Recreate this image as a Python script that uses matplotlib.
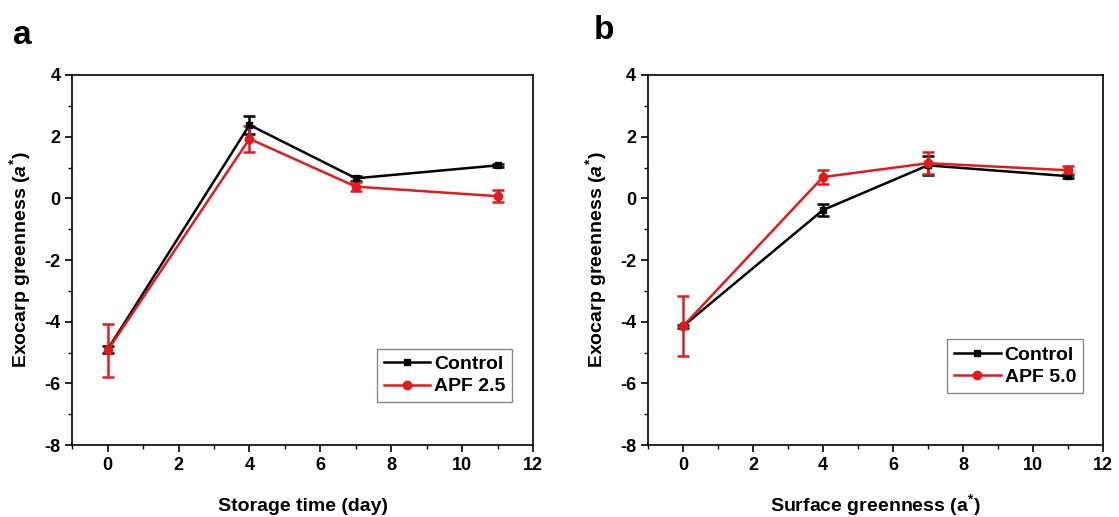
import matplotlib
matplotlib.use("Agg")
import matplotlib.pyplot as plt
from matplotlib.ticker import MultipleLocator
from matplotlib.lines import Line2D

plt.rcParams['font.family'] = ['Liberation Sans', 'DejaVu Sans']
plt.rcParams['font.weight'] = 'bold'
plt.rcParams['axes.unicode_minus'] = False
plt.rcParams['mathtext.fontset'] = 'custom'
plt.rcParams['mathtext.rm'] = 'Liberation Sans:bold'
plt.rcParams['mathtext.it'] = 'Liberation Sans:italic:bold'

# storage days
days = [0, 4, 7, 11]

# panel a
ctrl_a = [-4.9, 2.38, 0.65, 1.07]
ctrl_a_err = [0.1, 0.3, 0.09, 0.05]
apf25 = [-4.93, 1.93, 0.38, 0.07]
apf25_err = [0.85, 0.42, 0.15, 0.2]

# panel b
ctrl_b = [-4.15, -0.38, 1.07, 0.72]
ctrl_b_err = [0.05, 0.2, 0.3, 0.05]
apf50 = [-4.15, 0.69, 1.14, 0.91]
apf50_err = [0.97, 0.23, 0.35, 0.13]

RED = '#e31a1c'

fig = plt.figure(figsize=(11.19, 5.17), dpi=100)
ax_a = fig.add_axes([0.0645, 0.139, 0.412, 0.716])
ax_b = fig.add_axes([0.579, 0.139, 0.4066, 0.716])


def draw(ax, ctrl, ctrl_err, trt, trt_err, trt_label, xlabel, ylabel, leg_anchor):
    ax.errorbar(days, ctrl, yerr=ctrl_err, color='black', marker='s', ms=5,
                lw=1.8, capsize=4, capthick=1.8, elinewidth=1.8)
    ax.errorbar(days, trt, yerr=trt_err, color=RED, marker='o', ms=6,
                lw=1.8, capsize=4, capthick=1.8, elinewidth=1.8)
    ax.set_xlim(-1, 12)
    ax.set_ylim(-8, 4)
    ax.xaxis.set_major_locator(MultipleLocator(2))
    ax.xaxis.set_minor_locator(MultipleLocator(1))
    ax.yaxis.set_major_locator(MultipleLocator(2))
    ax.yaxis.set_minor_locator(MultipleLocator(1))
    ax.tick_params(which='major', direction='out', length=5, width=1.2,
                   labelsize=13, top=False, right=False)
    ax.tick_params(which='minor', direction='out', length=3, width=1.0)
    for s in ax.spines.values():
        s.set_linewidth(1.2)
    for lab in ax.get_xticklabels() + ax.get_yticklabels():
        lab.set_fontweight('bold')
    ax.set_xlabel(xlabel, fontsize=14, fontweight='bold')
    ax.xaxis.set_label_coords(0.5, -0.178)
    ax.xaxis.label.set_va('baseline')
    ax.set_ylabel(ylabel, fontsize=14, fontweight='bold', labelpad=8)
    handles = [
        Line2D([], [], color='black', marker='s', ms=5, lw=1.8),
        Line2D([], [], color=RED, marker='o', ms=6, lw=1.8),
    ]
    leg = ax.legend(handles, ['Control', trt_label], loc='lower right',
                    bbox_to_anchor=leg_anchor, fancybox=False, framealpha=1,
                    edgecolor='#888888', handlelength=2.4, handletextpad=0.2,
                    borderpad=0.35, labelspacing=0.25, borderaxespad=0,
                    prop={'weight': 'bold', 'size': 14})
    leg.get_frame().set_linewidth(1.0)


draw(ax_a, ctrl_a, ctrl_a_err, apf25, apf25_err, 'APF 2.5',
     'Storage time (day)', r'Exocarp greenness ($a^{*}$)', (0.955, 0.116))
draw(ax_b, ctrl_b, ctrl_b_err, apf50, apf50_err, 'APF 5.0',
     r'Surface greenness (a$^{*}$)', r'Exocarp greenness ($a^{*}$)', (0.956, 0.141))

fig.text(0.012, 0.915, 'a', fontsize=24, fontweight='bold')
fig.text(0.531, 0.925, 'b', fontsize=24, fontweight='bold')

fig.savefig('out.png', dpi=100)
